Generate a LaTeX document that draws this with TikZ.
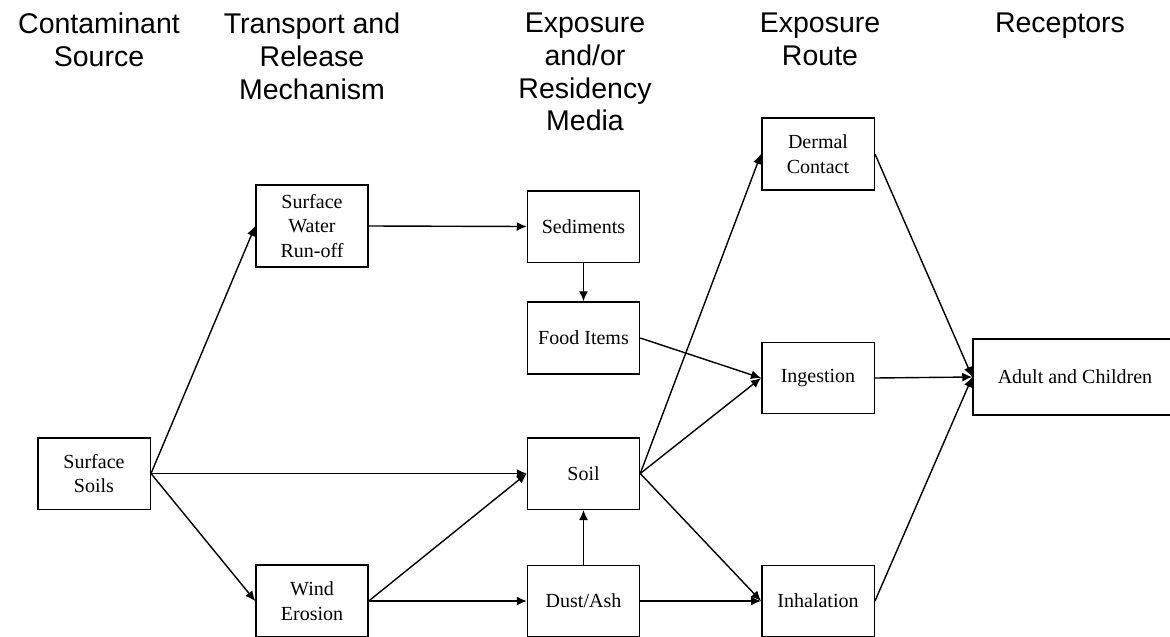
\documentclass[tikz,border=0pt]{standalone}
\usepackage{fontspec}
\setmainfont{Liberation Serif}
\newfontfamily\hdfont{Liberation Sans}
\usetikzlibrary{arrows.meta}
\tikzset{
  box/.style={draw, line width=1.5pt, align=center, inner sep=0pt,
    font=\fontsize{20}{24.5}\selectfont},
  hdr/.style={align=center, inner sep=0pt, anchor=north,
    font=\hdfont\fontsize{28.5}{32.7}\selectfont},
  conn/.style={line width=1.4pt, -{Latex[length=10pt,width=9pt]}}
}
\begin{document}
\begin{tikzpicture}[x=1pt,y=-1pt]
\useasboundingbox (0,0) rectangle (1170,637);
% headers
\node[hdr] (h1) at (99,13) {Contaminant\\Source};
\node[hdr] (h2) at (312,13) {Transport and\\Release\\Mechanism};
\node[hdr] (h3) at (585,13) {Exposure\\and/or\\Residency\\Media};
\node[hdr] (h4) at (820,13) {Exposure\\Route};
\node[hdr] (h5) at (1060,13) {Receptors};
% boxes
\node[box, minimum width=112.5pt, minimum height=71.5pt] (ss) at (94,473.5) {Surface\\Soils};
\node[box, minimum width=112pt, minimum height=82pt] (sw) at (312,226) {Surface\\Water\\Run-off};
\node[box, minimum width=112pt, minimum height=72pt] (we) at (312,601) {Wind\\Erosion};
\node[box, minimum width=112pt, minimum height=71.5pt] (sed) at (583.5,226.5) {Sediments};
\node[box, minimum width=112pt, minimum height=72pt] (food) at (583.5,338) {Food Items};
\node[box, minimum width=112pt, minimum height=71.5pt] (soil) at (583.5,473.5) {Soil};
\node[box, minimum width=112pt, minimum height=71pt] (dust) at (583.5,601) {Dust/Ash};
\node[box, minimum width=112.5pt, minimum height=72pt] (derm) at (818,154) {Dermal\\Contact};
\node[box, minimum width=112.5pt, minimum height=71pt] (ing) at (818,378) {Ingestion};
\node[box, minimum width=112.5pt, minimum height=71pt] (inh) at (818,601) {Inhalation};
\node[box, minimum width=204pt, minimum height=76pt] (adult) at (1075,377) {Adult and Children};
% connectors
\draw[conn] (ss.east) -- (sw.west);
\draw[conn] (ss.east) -- (soil.west);
\draw[conn] (ss.east) -- (we.west);
\draw[conn] (sw.east) -- (sed.west);
\draw[conn] (sed.south) -- (food.north);
\draw[conn] (food.east) -- (ing.west);
\draw[conn] (we.east) -- (soil.west);
\draw[conn] (we.east) -- (dust.west);
\draw[conn] (dust.north) -- (soil.south);
\draw[conn] (soil.east) -- (derm.west);
\draw[conn] (soil.east) -- (ing.west);
\draw[conn] (soil.east) -- (inh.west);
\draw[conn] (dust.east) -- (inh.west);
\draw[conn] (derm.east) -- (adult.west);
\draw[conn] (ing.east) -- (adult.west);
\draw[conn] (inh.east) -- (adult.west);
\end{tikzpicture}
\end{document}
